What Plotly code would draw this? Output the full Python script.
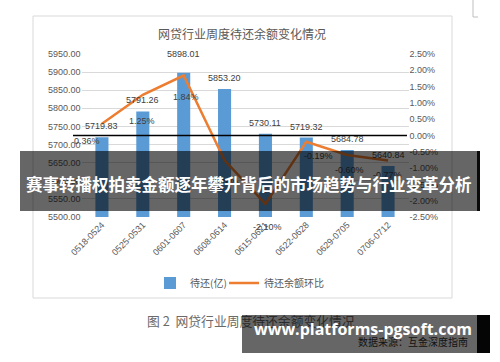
import plotly.graph_objects as go

# ---------------- data ----------------
categories = ["0518-0524", "0525-0531", "0601-0607", "0608-0614",
              "0615-0621", "0622-0628", "0629-0705", "0706-0712"]
balance = [5719.83, 5791.26, 5898.01, 5853.20, 5730.11, 5719.32, 5684.78, 5640.84]
mom_pct = [0.36, 1.25, 1.84, -0.76, -2.10, -0.19, -0.60, -0.77]

left_tickvals = [5500, 5550, 5600, 5650, 5700, 5750, 5800, 5850, 5900, 5950]
left_ticktext = ["5500.00", "5550.00", "5600.00", "5650.00", "5700.00",
                 "5750.00", "5800.00", "5850.00", "5900.00", "5950.00"]
right_tickvals = [-2.5, -2.0, -1.5, -1.0, -0.5, 0.0, 0.5, 1.0, 1.5, 2.0, 2.5]
right_ticktext = ["-2.50%", "-2.00%", "-1.50%", "-1.00%", "-0.50%", "0.00%",
                  "0.50%", "1.00%", "1.50%", "2.00%", "2.50%"]

series_names = ["待还(亿)", "待还余额环比"]
chart_title = "网贷行业周度待还余额变化情况"
caption = "图 2  网贷行业周度待还余额变化情况"
source = "数据来源：互金深度指南"
banner1_text = "赛事转播权拍卖金额逐年攀升背后的市场趋势与行业变革分析"
banner2_text = "www.platforms-pgsoft.com"

# ---------------- layout helpers ----------------
W, H = 500, 362
def px(x):
    return x / W
def py(y):
    return 1 - y / H

FONT = "Liberation Sans, Noto Sans CJK SC, sans-serif"
CJK = "Noto Sans CJK SC, sans-serif"
BLUE = "#5B9BD5"
ORANGE = "#ED7D31"
TXT = "#595959"

bar_label_shift = [11, 11, 19, 11, 11, 11, 11, 11]
pct_label_shift = [(-15, -17), (-1, -26), (2, -21), (0, -22),
                   (2, -23), (12, -14), (2, -15), (-1, -14)]

fig = go.Figure()
fig.add_trace(go.Bar(
    x=categories, y=balance, name=series_names[0],
    marker=dict(color=BLUE, line=dict(width=0)), width=0.32,
    yaxis="y", legend="legend",
))
fig.add_trace(go.Scatter(
    x=categories, y=mom_pct, name=series_names[1], mode="lines",
    line=dict(color=ORANGE, width=2.5), yaxis="y2", legend="legend2",
))


def paper_text(x, y, text, font, xanchor="center", yanchor="middle"):
    return dict(x=px(x), y=py(y), xref="paper", yref="paper", text=text,
                showarrow=False, font=font, xanchor=xanchor, yanchor=yanchor)


annotations = []
annotations.append(paper_text(242, 33, chart_title,
                              dict(family=CJK, size=12, color=TXT)))
for i, (c, v) in enumerate(zip(categories, balance)):
    annotations.append(dict(x=c, y=v, xref="x", yref="y", text=f"{v:.2f}",
                            showarrow=False, yshift=bar_label_shift[i],
                            xanchor="center", yanchor="middle",
                            font=dict(family=FONT, size=9, color="#404040")))
for i, (c, v) in enumerate(zip(categories, mom_pct)):
    dx, dy = pct_label_shift[i]
    annotations.append(dict(x=c, y=v, xref="x", yref="y2", text=f"{v:.2f}%",
                            showarrow=False, xshift=dx, yshift=dy,
                            xanchor="center", yanchor="middle",
                            font=dict(family=FONT, size=9, color="#404040")))
annotations.append(paper_text(145, 320, caption,
                              dict(family=CJK, size=12.8, color="#6a6a6a"),
                              xanchor="left"))
annotations.append(paper_text(470, 341, source,
                              dict(family=CJK, size=10, color="#333333"),
                              xanchor="right"))


def box(x0, y0, x1, y1, color):
    return dict(x=px((x0 + x1) / 2), y=py((y0 + y1) / 2), xref="paper", yref="paper",
                text=" ", showarrow=False, width=x1 - x0, height=y1 - y0,
                bgcolor=color, borderpad=0, borderwidth=0,
                xanchor="center", yanchor="middle")


annotations.append(box(20, 151, 480, 211, "rgba(0,0,0,0.6)"))
annotations.append(box(477, 151, 480, 211, "rgba(0,0,0,0.9)"))
annotations.append(box(242, 315, 490, 353, "rgba(0,0,0,0.6)"))
annotations.append(box(477, 315, 490, 353, "rgba(0,0,0,0.95)"))
annotations.append(paper_text(249, 184, f"<b>{banner1_text}</b>",
                              dict(family=CJK, size=16.5, color="white")))
annotations.append(paper_text(363, 329, f"<b>{banner2_text}</b>",
                              dict(family="Open Sans, sans-serif", size=16, color="white")))

shapes = [
    dict(type="rect", xref="paper", yref="paper", x0=px(33), x1=px(452),
         y0=py(298), y1=py(16), line=dict(color="#D9D9D9", width=1), layer="below"),
    dict(type="line", xref="paper", yref="y2", x0=px(73), x1=px(407), y0=0, y1=0,
         line=dict(color="black", width=1.5), layer="above"),
    dict(type="line", xref="paper", yref="paper", x0=px(473), x1=px(473),
         y0=py(0), y1=py(17), line=dict(color="#BFBFBF", width=1)),
    dict(type="line", xref="paper", yref="paper", x0=px(473), x1=px(478),
         y0=py(17), y1=py(17), line=dict(color="#BFBFBF", width=1)),
]

legend_common = dict(orientation="h", yanchor="middle", y=py(283), xanchor="left",
                     font=dict(family=CJK, size=10, color=TXT),
                     bgcolor="rgba(0,0,0,0)", borderwidth=0)

fig.update_layout(
    width=W, height=H,
    margin=dict(l=0, r=0, t=0, b=0, autoexpand=False),
    paper_bgcolor="white", plot_bgcolor="white",
    showlegend=True,
    legend=dict(x=px(150), **legend_common),
    legend2=dict(x=px(224), **legend_common),
    xaxis=dict(domain=[px(81.5), px(408.5)], type="category", automargin=False,
               range=[-0.5, 7.5],
               tickangle=-45, tickfont=dict(family=FONT, size=9, color=TXT),
               showline=False, showgrid=False, zeroline=False, ticks=""),
    yaxis=dict(domain=[py(217), py(54)], range=[5500, 5950], automargin=False,
               tickvals=left_tickvals, ticktext=left_ticktext,
               tickfont=dict(family=FONT, size=9, color=TXT),
               showgrid=True, gridcolor="#D9D9D9", gridwidth=1,
               zeroline=False, showline=False, ticks=""),
    yaxis2=dict(overlaying="y", side="right", range=[-2.5, 2.5], automargin=False,
                tickvals=right_tickvals, ticktext=right_ticktext,
                tickfont=dict(family=FONT, size=9, color=TXT),
                showgrid=False, zeroline=False, showline=False, ticks=""),
    annotations=annotations,
    shapes=shapes,
)

fig.write_html(
    "out.html",
    config={"displayModeBar": False},
    post_script="document.body.style.margin='0';document.body.style.overflow='hidden';",
)
